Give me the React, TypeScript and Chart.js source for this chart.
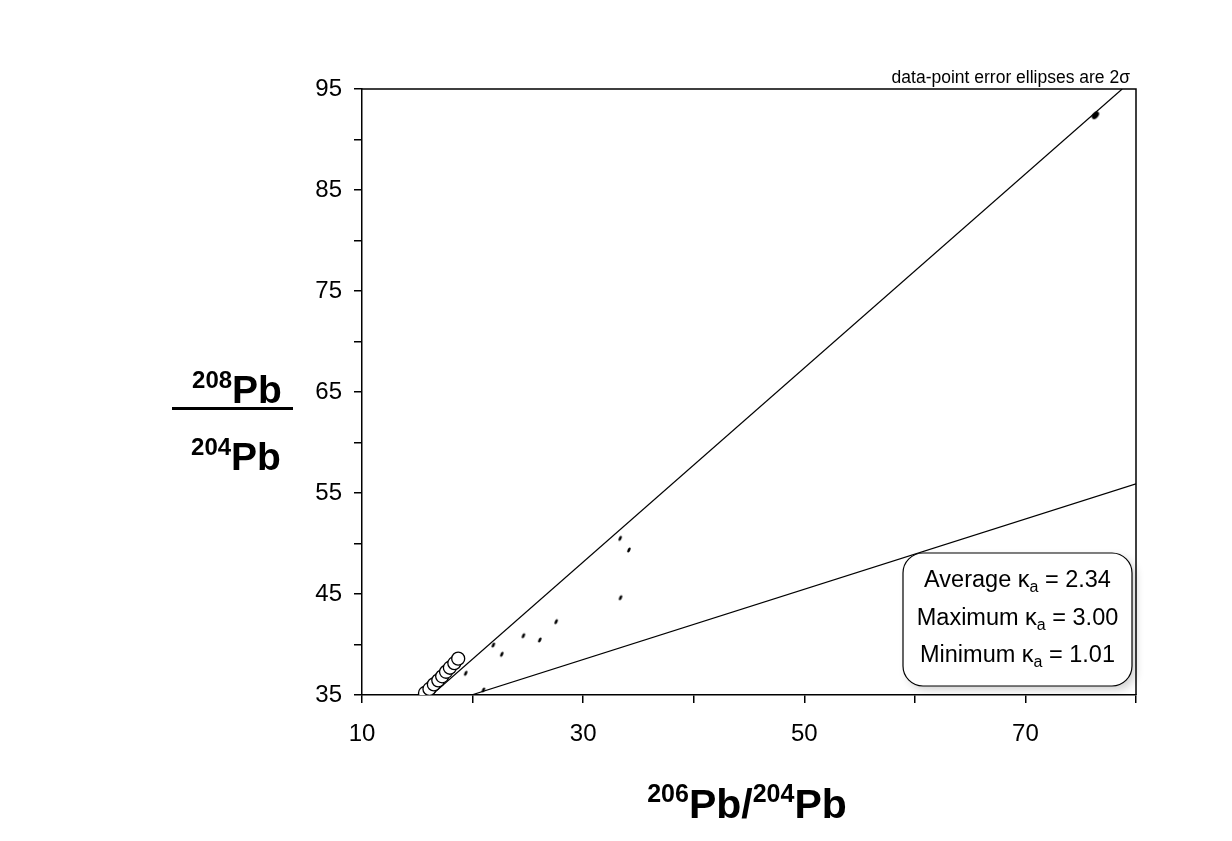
import React, { useEffect, useRef } from "react";
import { Chart, registerables } from "chart.js";

Chart.register(...registerables);

// Common-lead growth points (open circles)
const growthX = [15.7, 16.1, 16.5, 16.9, 17.25, 17.6, 17.95, 18.35, 18.7];
const growthY = [35.2, 35.6, 36.05, 36.45, 36.85, 37.3, 37.7, 38.15, 38.6];

// Measured sample ratios (small error ellipses)
const sampleX = [33.35, 34.14, 33.38, 27.56, 24.6, 26.08, 21.88, 22.64, 19.38, 20.98];
const sampleY = [50.51, 49.36, 44.63, 42.26, 40.87, 40.45, 39.95, 39.03, 37.15, 35.5];

// Most radiogenic sample
const radiogenicX = [76.33];
const radiogenicY = [92.4];

// Reference lines for maximum and minimum kappa
const kappaMaxX = [16.3, 78.75];
const kappaMaxY = [35, 95];
const kappaMinX = [19.9, 80];
const kappaMinY = [35, 55.9];

// Axis tick labels
const xTickLabels = [10, 30, 50, 70];
const yTickLabels = [35, 45, 55, 65, 75, 85, 95];

// Summary box
const kappaNames = ["Average", "Maximum", "Minimum"];
const kappaValues = ["2.34", "3.00", "1.01"];

const FONT = "'Liberation Sans', Arial, Helvetica, sans-serif";

const toPoints = (xs: number[], ys: number[]) => xs.map((x, i) => ({ x, y: ys[i] }));

function ellipseImage(w: number, h: number, rx: number, ry: number, rot: number) {
  const c = document.createElement("canvas");
  c.width = w;
  c.height = h;
  const g = c.getContext("2d")!;
  g.fillStyle = "#000";
  g.beginPath();
  g.ellipse(w / 2, h / 2, rx, ry, rot, 0, Math.PI * 2);
  g.fill();
  return c;
}

// Draws e.g. ²⁰⁸Pb with a bold superscript, centred on cx
function drawIsotopeText(
  ctx: CanvasRenderingContext2D,
  parts: { t: string; sup: boolean }[],
  cx: number,
  baseline: number,
  big: number,
  small: number,
  rise: number
) {
  const fontOf = (sup: boolean) => `bold ${sup ? small : big}px ${FONT}`;
  let total = 0;
  for (const p of parts) {
    ctx.font = fontOf(p.sup);
    total += ctx.measureText(p.t).width;
  }
  let x = cx - total / 2;
  ctx.textAlign = "left";
  ctx.textBaseline = "alphabetic";
  for (const p of parts) {
    ctx.font = fontOf(p.sup);
    ctx.fillText(p.t, x, p.sup ? baseline - rise : baseline);
    x += ctx.measureText(p.t).width;
  }
}

const decorPlugin = {
  id: "decor",
  afterDraw(chart: any) {
    const ctx: CanvasRenderingContext2D = chart.ctx;
    const { left, top, right, bottom } = chart.chartArea;
    ctx.save();

    // top and right frame
    ctx.strokeStyle = "#000";
    ctx.lineWidth = 1.5;
    ctx.beginPath();
    ctx.moveTo(left, top);
    ctx.lineTo(right, top);
    ctx.lineTo(right, bottom);
    ctx.stroke();

    // note above the plot
    ctx.fillStyle = "#000";
    ctx.font = `17.5px ${FONT}`;
    ctx.textAlign = "right";
    ctx.textBaseline = "alphabetic";
    ctx.fillText("data-point error ellipses are 2\u03c3", right - 6, top - 6);

    // kappa summary box
    const bx = 903, by = 553, bw = 229, bh = 133, r = 20;
    ctx.save();
    ctx.shadowColor = "rgba(0,0,0,0.18)";
    ctx.shadowBlur = 8;
    ctx.shadowOffsetX = 4;
    ctx.shadowOffsetY = 4;
    ctx.fillStyle = "#fff";
    ctx.beginPath();
    ctx.roundRect(bx, by, bw, bh, r);
    ctx.fill();
    ctx.restore();
    ctx.strokeStyle = "#000";
    ctx.lineWidth = 1.2;
    ctx.beginPath();
    ctx.roundRect(bx, by, bw, bh, r);
    ctx.stroke();

    const cx = bx + bw / 2;
    kappaNames.forEach((name, i) => {
      const base = 587 + i * 37.5;
      const a = `${name} \u03ba`;
      const b = "a";
      const c = ` = ${kappaValues[i]}`;
      ctx.font = `23.5px ${FONT}`;
      const wa = ctx.measureText(a).width;
      const wc = ctx.measureText(c).width;
      ctx.font = `16px ${FONT}`;
      const wb = ctx.measureText(b).width;
      let x = cx - (wa + wb + wc) / 2;
      ctx.textAlign = "left";
      ctx.fillStyle = "#000";
      ctx.font = `23.5px ${FONT}`;
      ctx.fillText(a, x, base);
      x += wa;
      ctx.font = `16px ${FONT}`;
      ctx.fillText(b, x, base + 5);
      x += wb;
      ctx.font = `23.5px ${FONT}`;
      ctx.fillText(c, x, base);
    });

    // y-axis title as a ratio
    ctx.fillStyle = "#000";
    drawIsotopeText(ctx, [{ t: "208", sup: true }, { t: "Pb", sup: false }], 237, 403, 39, 24, 15);
    ctx.fillRect(172, 407, 121, 3);
    drawIsotopeText(ctx, [{ t: "204", sup: true }, { t: "Pb", sup: false }], 236, 470, 39, 24, 15);

    // x-axis title
    drawIsotopeText(
      ctx,
      [
        { t: "206", sup: true },
        { t: "Pb/", sup: false },
        { t: "204", sup: true },
        { t: "Pb", sup: false },
      ],
      747,
      818,
      41,
      25,
      16
    );

    ctx.restore();
  },
};

export default function App() {
  const canvasRef = useRef<HTMLCanvasElement | null>(null);

  useEffect(() => {
    const canvas = canvasRef.current;
    if (!canvas) return;

    const smallEllipse = ellipseImage(8, 8, 1.4, 2.7, 0.45);
    const bigEllipse = ellipseImage(14, 14, 2.8, 4.4, 0.75);

    const chart = new Chart(canvas, {
      type: "scatter",
      data: {
        datasets: [
          {
            label: "growth",
            data: toPoints(growthX, growthY),
            pointStyle: "circle",
            pointRadius: 6.5,
            pointBackgroundColor: "#fff",
            pointBorderColor: "#000",
            pointBorderWidth: 1.3,
          },
          {
            label: "samples",
            data: toPoints(sampleX, sampleY),
            pointStyle: smallEllipse as any,
          },
          {
            label: "radiogenic",
            data: toPoints(radiogenicX, radiogenicY),
            pointStyle: bigEllipse as any,
          },
          {
            label: "kappa max",
            data: toPoints(kappaMaxX, kappaMaxY),
            showLine: true,
            borderColor: "#000",
            borderWidth: 1.2,
            pointRadius: 0,
          },
          {
            label: "kappa min",
            data: toPoints(kappaMinX, kappaMinY),
            showLine: true,
            borderColor: "#000",
            borderWidth: 1.2,
            pointRadius: 0,
          },
        ],
      },
      options: {
        animation: false,
        responsive: false,
        devicePixelRatio: 1,
        layout: { padding: { top: 89, right: 96, left: 0, bottom: 0 } },
        plugins: {
          legend: { display: false },
          tooltip: { enabled: false },
        },
        scales: {
          x: {
            type: "linear",
            min: 10,
            max: 80,
            afterFit: (s: any) => {
              s.height = 146;
            },
            ticks: {
              stepSize: 10,
              autoSkip: false,
              maxRotation: 0,
              padding: 17,
              color: "#000",
              font: { family: FONT, size: 24 },
              callback: (v: any) => (xTickLabels.includes(Number(v)) ? String(v) : ""),
            },
            grid: {
              drawOnChartArea: false,
              drawTicks: true,
              tickLength: 8,
              color: "#000",
              lineWidth: 1.5,
            },
            border: { display: true, color: "#000", width: 1.5 },
          },
          y: {
            type: "linear",
            min: 35,
            max: 95,
            afterFit: (s: any) => {
              s.width = 362;
            },
            ticks: {
              stepSize: 5,
              autoSkip: false,
              padding: 12,
              color: "#000",
              font: { family: FONT, size: 24 },
              callback: (v: any) => (yTickLabels.includes(Number(v)) ? String(v) : ""),
            },
            grid: {
              drawOnChartArea: false,
              drawTicks: true,
              tickLength: 8,
              color: "#000",
              lineWidth: 1.5,
            },
            border: { display: true, color: "#000", width: 1.5 },
          },
        },
      },
      plugins: [decorPlugin],
    });

    return () => chart.destroy();
  }, []);

  return (
    <div style={{ position: "absolute", left: 0, top: 0, width: 1232, height: 841, background: "#fff" }}>
      <canvas ref={canvasRef} width={1232} height={841} />
    </div>
  );
}
